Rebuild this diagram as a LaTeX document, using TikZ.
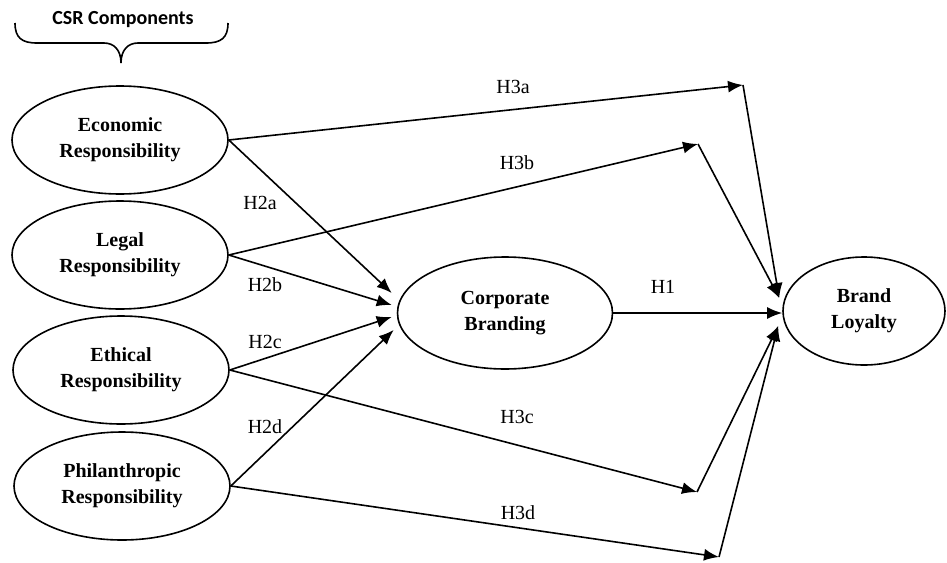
\documentclass[tikz,border=0pt]{standalone}
\usepackage{fontspec}
\setmainfont{Liberation Serif}
\newfontfamily\csrfont{Carlito}
\usepackage{tikz}
\usetikzlibrary{calc,arrows.meta,shapes.geometric}

\begin{document}
\begin{tikzpicture}[x=0.5pt,y=-0.5pt,
                    construct/.style={ellipse,draw,line width=0.8pt,align=center,inner sep=0pt,font=\bfseries\fontsize{10}{13}\selectfont},
                    hyp/.style={-{Latex[length=7.5pt,width=6pt]},line width=0.8pt},
                    hlabel/.style={font=\fontsize{10}{12}\selectfont}]
                                     \useasboundingbox (0,0) rectangle (947,562);
                                     \node[font=\csrfont\bfseries\fontsize{10}{12}\selectfont](csr)at(123,20){CSR Components};
                                     \draw[line width=0.8pt] (15,23) .. controls (15,38) and (22,43) .. (37,43) -- (104,43)
                                           .. controls (114,43) and (121,50) .. (121,63) .. controls (121,50) and (128,43) .. (138,43)
                                           -- (206,43) .. controls (221,43) and (228,38) .. (228,23);
                                     \node[construct,minimum width=108pt,minimum height=54pt](eco)at(120,140){Economic\\Responsibility};
                                     \node[construct,minimum width=108pt,minimum height=54pt](leg)at(120,255){Legal\\Responsibility};
                                     \node[construct,minimum width=108pt,minimum height=54pt](eth)at(121,370){Ethical\\Responsibility};
                                     \node[construct,minimum width=108pt,minimum height=54pt](phi)at(122,486){Philanthropic\\Responsibility};
                                     \node[construct,minimum width=107.5pt,minimum height=56pt](cb)at(505,313){Corporate\\Branding};
                                     \node[construct,minimum width=81pt,minimum height=54pt](bl)at(864,311){Brand\\Loyalty};
                                     \coordinate(c3a)at(743,85);
                                     \coordinate(c3b)at(698,144);
                                     \coordinate(c3c)at(697,492);
                                     \coordinate(c3d)at(719,557);
                                     \draw[hyp](eco.east)--($(cb.west)+(-5,-20)$);
                                     \draw[hyp](leg.east)--($(cb.west)+(-5,-8)$);
                                     \draw[hyp](eth.east)--($(cb.west)+(-5,4)$);
                                     \draw[hyp](phi.east)--($(cb.west)+(-3,17)$);
                                     \draw[hyp](cb.east)--(cb.east-|bl.west);
                                     \draw[hyp](eco.east)--(c3a);
                                     \draw[hyp](leg.east)--(c3b);
                                     \draw[hyp](eth.east)--(c3c);
                                     \draw[hyp](phi.east)--(c3d);
                                     \draw[hyp](c3a)--($(bl.west)+(-3,-13)$);
                                     \draw[hyp](c3b)--($(bl.west)+(-3,-13)$);
                                     \draw[hyp](c3c)--($(bl.west)+(-4,15)$);
                                     \draw[hyp](c3d)--($(bl.west)+(-4,15)$);
                                     \node[hlabel](h1)at(663,287){H1};
                                     \node[hlabel](h2a)at(260,203){H2a};
                                     \node[hlabel](h2b)at(265,285){H2b};
                                     \node[hlabel](h2c)at(265,342){H2c};
                                     \node[hlabel](h2d)at(265,427){H2d};
                                     \node[hlabel](h3a)at(513,87){H3a};
                                     \node[hlabel](h3b)at(517,163){H3b};
                                     \node[hlabel](h3c)at(517,417){H3c};
                                     \node[hlabel](h3d)at(518,513){H3d};
                                 \end{tikzpicture}
\end{document}
